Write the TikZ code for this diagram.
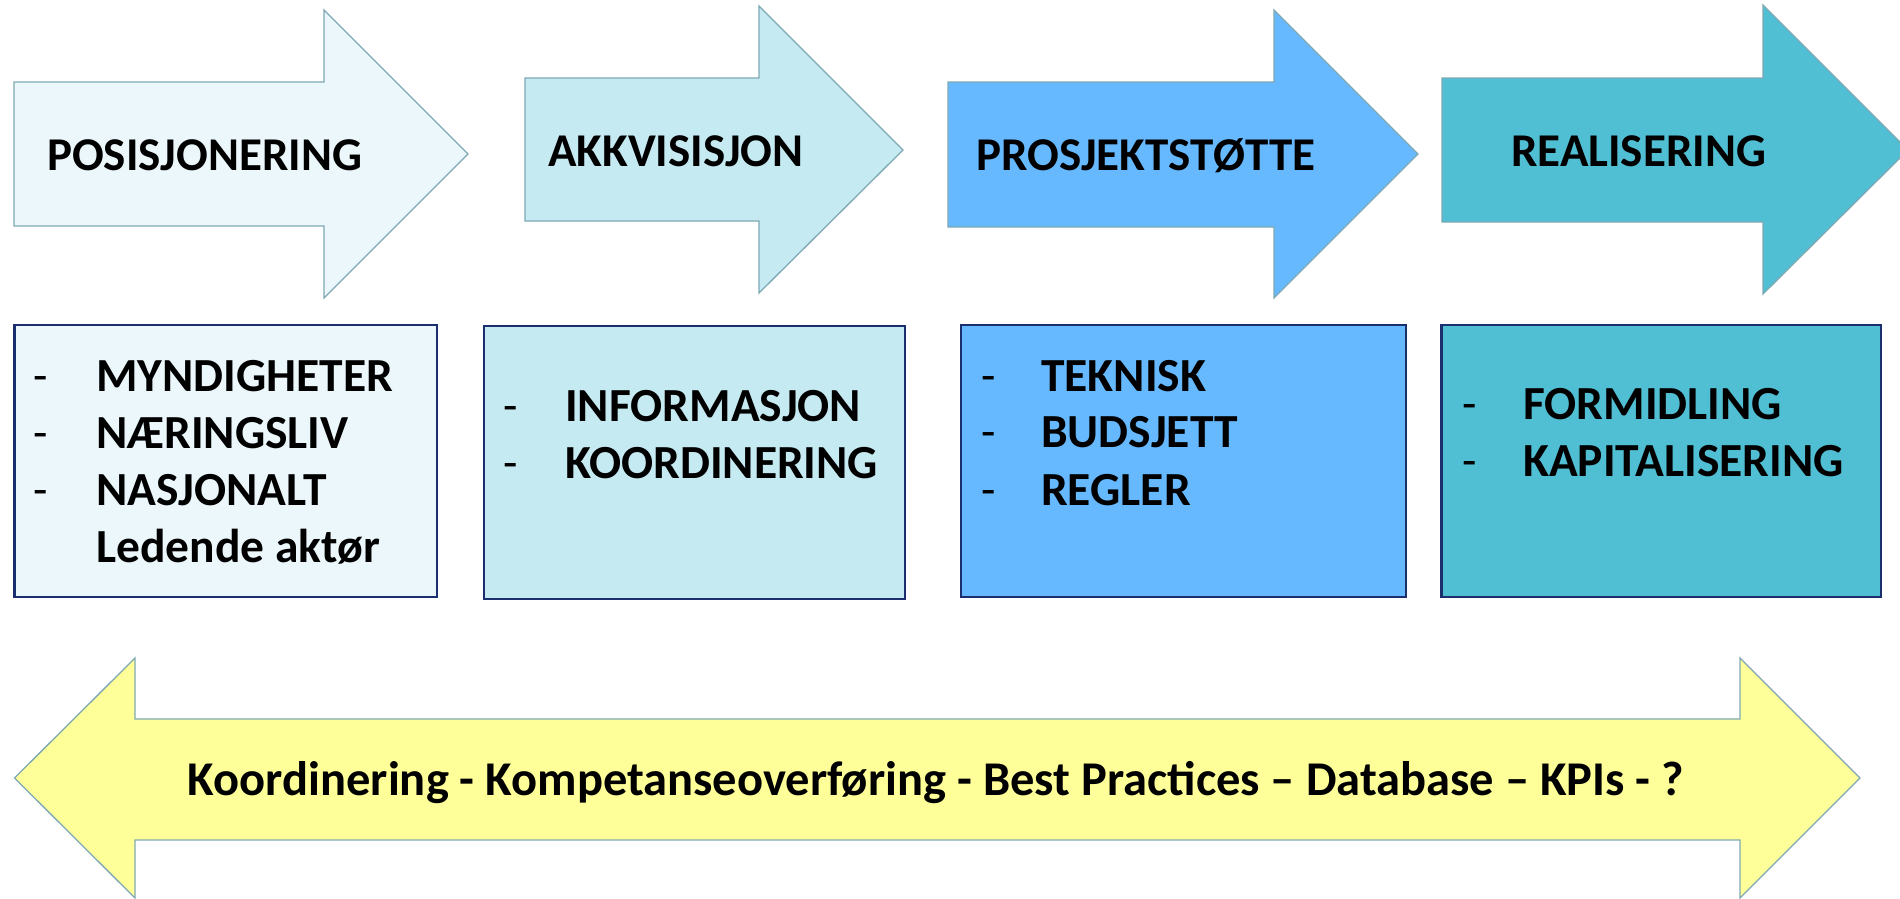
\documentclass[tikz,border=0pt]{standalone}
\usepackage{fontspec}
\setmainfont{Carlito}
\definecolor{fillA}{HTML}{EBF7FB}
\definecolor{fillB}{HTML}{C6EAF2}
\definecolor{fillC}{HTML}{66B9FE}
\definecolor{fillD}{HTML}{51BFD3}
\definecolor{fillY}{HTML}{FFFF99}
\definecolor{arrline}{HTML}{7EA9B4}
\definecolor{boxline}{HTML}{1B2F6E}
\tikzset{
  arrowshape/.style={draw=arrline, line width=1.3pt, line join=miter},
  boxshape/.style={draw=boxline, line width=2.2pt},
  headtext/.style={anchor=base west, inner sep=0pt, font=\fontsize{47}{56}\selectfont\bfseries},
  itemtext/.style={anchor=base west, inner sep=0pt, font=\fontsize{47.5}{56}\selectfont\bfseries},
  dashtext/.style={anchor=base west, inner sep=0pt, font=\fontsize{47}{56}\selectfont},
  bottomtext/.style={anchor=base, inner sep=0pt, font=\fontsize{48.5}{56}\selectfont\bfseries}
}
\begin{document}
\begin{tikzpicture}[x=1pt, y=-1pt]
\useasboundingbox (0,0) rectangle (1900,898);
\begin{scope}
\clip (0,0) rectangle (1900,898);
% top arrows
\draw[arrowshape, fill=fillA] (14,82) -- (324,82) -- (324,10) -- (468,154) -- (324,298) -- (324,226) -- (14,226) -- cycle;
\draw[arrowshape, fill=fillB] (525,78) -- (759,78) -- (759,6) -- (903,150) -- (759,293) -- (759,221) -- (525,221) -- cycle;
\draw[arrowshape, fill=fillC] (948,82) -- (1274,82) -- (1274,10) -- (1418,154) -- (1274,298) -- (1274,227) -- (948,227) -- cycle;
\draw[arrowshape, fill=fillD] (1442,78) -- (1763,78) -- (1763,5) -- (1908,150) -- (1763,294) -- (1763,222) -- (1442,222) -- cycle;
% bottom double arrow
\draw[arrowshape, fill=fillY] (14.5,778) -- (135,658) -- (135,719) -- (1740,719) -- (1740,658) -- (1860,778) -- (1740,898) -- (1740,840) -- (135,840) -- (135,898) -- cycle;
\end{scope}
% arrow labels
\node[headtext] (h1) at (47,170) {POSISJONERING};
\node[headtext] (h2) at (548,166) {AKKVISISJON};
\node[headtext] (h3) at (976,170) {PROSJEKTSTØTTE};
\node[headtext] (h4) at (1511,166) {REALISERING};
% boxes
\draw[boxshape, fill=fillA] (14.5,325) rectangle (437,597);
\draw[boxshape, fill=fillB] (484,326) rectangle (905,599);
\draw[boxshape, fill=fillC] (961,325) rectangle (1406,597);
\draw[boxshape, fill=fillD] (1441.5,325) rectangle (1881,597);
% box 1
\node[dashtext] (d11) at (33,391) {-};
\node[itemtext] (t11) at (96,391) {MYNDIGHETER};
\node[dashtext] (d12) at (33,448) {-};
\node[itemtext] (t12) at (96,448) {NÆRINGSLIV};
\node[dashtext] (d13) at (33,505) {-};
\node[itemtext] (t13) at (96,505) {NASJONALT};
\node[itemtext] (t14) at (96,562) {Ledende aktør};
% box 2
\node[dashtext] (d21) at (503,421) {-};
\node[itemtext] (t21) at (565,421) {INFORMASJON};
\node[dashtext] (d22) at (503,478) {-};
\node[itemtext] (t22) at (565,478) {KOORDINERING};
% box 3
\node[dashtext] (d31) at (981,391) {-};
\node[itemtext] (t31) at (1041,391) {TEKNISK};
\node[dashtext] (d32) at (981,447) {-};
\node[itemtext] (t32) at (1041,447) {BUDSJETT};
\node[dashtext] (d33) at (981,505) {-};
\node[itemtext] (t33) at (1041,505) {REGLER};
% box 4
\node[dashtext] (d41) at (1462,419) {-};
\node[itemtext] (t41) at (1523,419) {FORMIDLING};
\node[dashtext] (d42) at (1462,476) {-};
\node[itemtext] (t42) at (1523,476) {KAPITALISERING};
% bottom label
\node[bottomtext] (bt) at (936,795) {Koordinering - Kompetanseoverføring - Best Practices – Database – KPIs - ?};
\end{tikzpicture}
\end{document}
